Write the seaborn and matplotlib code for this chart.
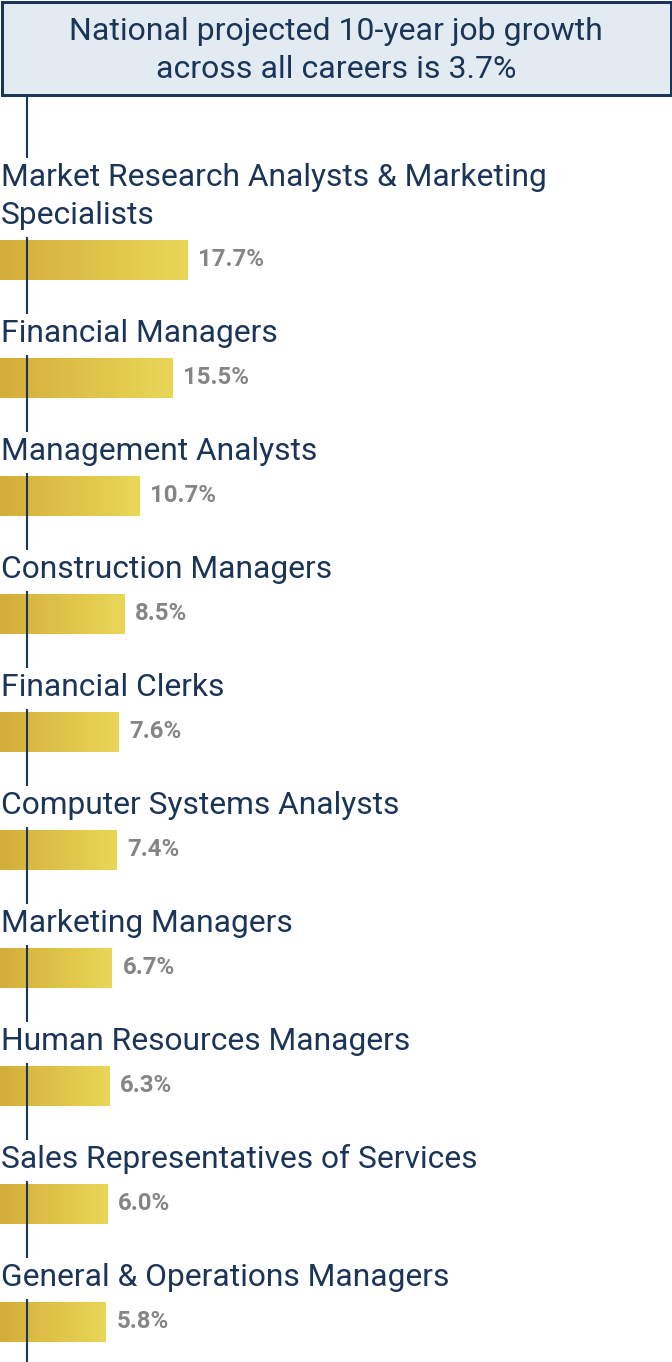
import textwrap
import numpy as np
import matplotlib
matplotlib.use("Agg")
import matplotlib.pyplot as plt
import matplotlib.transforms as mtransforms
from matplotlib.colors import LinearSegmentedColormap
from matplotlib.patches import Rectangle
import pandas as pd
import seaborn as sns

# ---------------- data ----------------
occupations = [
    "Market Research Analysts & Marketing Specialists",
    "Financial Managers",
    "Management Analysts",
    "Construction Managers",
    "Financial Clerks",
    "Computer Systems Analysts",
    "Marketing Managers",
    "Human Resources Managers",
    "Sales Representatives of Services",
    "General & Operations Managers",
]
growth = [17.7, 15.5, 10.7, 8.5, 7.6, 7.4, 6.7, 6.3, 6.0, 5.8]
national_growth = 3.7
title_lines = ["National projected 10-year job growth",
               f"across all careers is {national_growth}%"]

# ---------------- style ----------------
sns.set_theme(style="white")
plt.rcParams["font.family"] = ["Roboto", "DejaVu Sans"]

NAVY = "#1B3558"
GRAY = "#858585"
HEADER_FILL = "#E3EBF2"
grad_cmap = LinearSegmentedColormap.from_list("gold", ["#D4AD3A", "#E9D758"])

W, H = 672, 1362
PITCH = 118.0          # px between bars
BAR_H = 40.0           # px bar height
FIRST_BAR_C = 260.0    # px centre of first bar from top
X_MIN, X_MAX = -9.57, 88.16

fig = plt.figure(figsize=(W / 100, H / 100), dpi=100)
ax = fig.add_axes([0, 0, 1, 1])

df = pd.DataFrame({"occupation": occupations, "growth": growth})
sns.barplot(data=df, x="growth", y="occupation", orient="h", ax=ax,
            color="#E0C448", saturation=1, width=BAR_H / PITCH, zorder=2)

def py(px):
    """figure pixel (from top) -> y data"""
    return (px - FIRST_BAR_C) / PITCH

ax.set_xlim(X_MIN, X_MAX)
ax.set_ylim(py(H), py(0))
ax.axis("off")

blend = mtransforms.blended_transform_factory(ax.transAxes, ax.transData)

# gradient bars extending from the left edge
grad = np.linspace(0, 1, 256).reshape(1, -1)
for p in list(ax.patches):
    right = p.get_x() + p.get_width()
    p.set_x(X_MIN)
    p.set_width(right - X_MIN)
    p.set_edgecolor("none")
    y0, h = p.get_y(), p.get_height()
    im = ax.imshow(grad, extent=[X_MIN, right, y0 + h, y0], aspect="auto",
                   cmap=grad_cmap, zorder=2.5, interpolation="bilinear")
    im.set_clip_path(p)
ax.set_xlim(X_MIN, X_MAX)
ax.set_ylim(py(H), py(0))

# labels & values
half = BAR_H / 2 / PITCH
label_tops = []
for i, (name, v) in enumerate(zip(occupations, growth)):
    lines = textwrap.wrap(name, 36)
    n = len(lines)
    bar_top = i - half
    for j, line in enumerate(lines):
        base = bar_top - 16 / PITCH - (n - 1 - j) * 38 / PITCH
        ax.text(1 / W, base, line, transform=blend, ha="left", va="baseline",
                fontsize=22.9, color=NAVY, zorder=4)
    label_tops.append(bar_top - 16 / PITCH - (n - 1) * 38 / PITCH - 28 / PITCH)
    ax.annotate(f"{v:.1f}%", xy=(v, i), xytext=(7.9, 0), textcoords="offset points",
                ha="left", va="center", fontsize=17.3, fontweight="bold",
                color=GRAY, zorder=4)

# national-average guide line (segments between labels)
LINE_X = 27 / W
segs = [(py(95), label_tops[0])]
for i in range(len(growth)):
    top = i - half - 3 / PITCH
    bottom = label_tops[i + 1] if i + 1 < len(growth) else py(H)
    segs.append((top, bottom))
for a, b in segs:
    ax.plot([LINE_X, LINE_X], [a, b], transform=blend, color=NAVY, lw=1.5,
            zorder=3, solid_capstyle="butt")

# header box
lw_px = 3
ax.add_patch(Rectangle((lw_px / 2 / W, 1 - 94.5 / H), (W - lw_px) / W, 93 / H,
                       transform=ax.transAxes, facecolor=HEADER_FILL,
                       edgecolor=NAVY, lw=lw_px * 0.72, zorder=5))
for k, (t, base_px) in enumerate(zip(title_lines, [40, 78])):
    ax.text(0.5, 1 - base_px / H, t, transform=ax.transAxes, ha="center",
            va="baseline", fontsize=23, color=NAVY, zorder=6)

fig.savefig("out.png", dpi=100)
